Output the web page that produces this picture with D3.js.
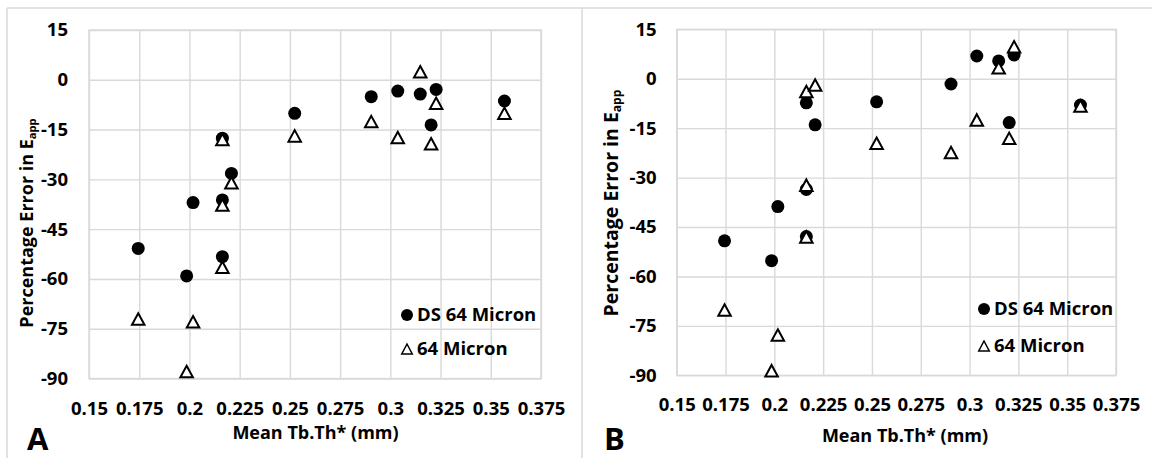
<!DOCTYPE html>
<html>
<head>
<meta charset="utf-8">
<script src="https://cdn.jsdelivr.net/npm/d3@7"></script>
<style>
	body { margin: 0; background: #fff; }
	text { font-family: "Open Sans", sans-serif; font-weight: bold; fill: #000; }
</style>
</head>
<body>
<div id="chart"></div>
<script>

	///////////////////////////////////////////////////////////////////////////
	///////////////////////////////// Data ////////////////////////////////////
	///////////////////////////////////////////////////////////////////////////

	//Mean Tb.Th* (mm), same samples in both panels
	var meanTbTh = [0.1745, 0.1986, 0.2018, 0.2164, 0.2164, 0.2164, 0.2209, 0.2524, 0.2905, 0.3037, 0.3149, 0.3228, 0.3203, 0.3568];

	//Panel A - percentage error in E_app
	var dsA   = [-50.8, -59.1, -37.0, -17.6, -36.2, -53.3, -28.2, -10.1, -5.1, -3.4, -4.3, -2.9, -13.6, -6.4];
	var m64A  = [-72.1, -87.9, -72.9, -18.0, -37.7, -56.5, -31.0, -16.9, -12.6, -17.4, 2.4, -7.1, -19.3, -10.1];

	//Panel B - percentage error in E_app
	var dsB   = [-49.2, -55.2, -38.8, -7.3, -33.6, -47.9, -14.0, -7.0, -1.6, 6.9, 5.4, 7.2, -13.3, -8.0];
	var m64B  = [-70.2, -88.6, -77.8, -3.9, -32.3, -48.0, -1.9, -19.6, -22.4, -12.5, 3.3, 9.7, -18.1, -8.3];

	var xTicks = [0.15, 0.175, 0.2, 0.225, 0.25, 0.275, 0.3, 0.325, 0.35, 0.375];
	var xTickLabels = ["0.15", "0.175", "0.2", "0.225", "0.25", "0.275", "0.3", "0.325", "0.35", "0.375"];
	var yTicks = [15, 0, -15, -30, -45, -60, -75, -90];
	var yTickLabels = ["15", "0", "-15", "-30", "-45", "-60", "-75", "-90"];

	var seriesNames = ["DS 64 Micron", "64 Micron"];

	///////////////////////////////////////////////////////////////////////////
	//////////////////////////// Set up the svg ///////////////////////////////
	///////////////////////////////////////////////////////////////////////////

	var totalWidth = 1152,
		totalHeight = 458,
		gridColor = "#d9d9d9";

	var svg = d3.select("#chart")
		.append("svg")
		.attr("width", totalWidth)
		.attr("height", totalHeight);

	svg.append("rect")
		.attr("width", totalWidth)
		.attr("height", totalHeight)
		.style("fill", "#fff");

	//Outer frame of the two panels
	var frame = [[7, 8, 1152, 8], [7, 8, 7, 458], [582, 8, 582, 458]];
	svg.selectAll(".frame")
		.data(frame)
		.enter().append("line")
		.attr("class", "frame")
		.attr("x1", function(d) { return d[0]; })
		.attr("y1", function(d) { return d[1]; })
		.attr("x2", function(d) { return d[2]; })
		.attr("y2", function(d) { return d[3]; })
		.style("stroke", gridColor)
		.style("stroke-width", 1.5);

	//Triangle marker, centred on its bounding box
	function triangle(w, h) {
		var p = d3.path();
		p.moveTo(0, -h/2);
		p.lineTo(w/2, h/2);
		p.lineTo(-w/2, h/2);
		p.closePath();
		return p.toString();
	}

	var panels = [
		{ letter: "A", left: 89, right: 541, top: 30, bottom: 378.5, ds: dsA, m64: m64A,
		  yTitleX: 33, yTitleY: 223, yTitleSize: 18, yPad: 21,
		  xTitleX: 315.5, xTitleY: 439, letterX: 27, legX: 407, legY: [315, 349] },
		{ letter: "B", left: 676.7, right: 1116, top: 29.3, bottom: 375.3, ds: dsB, m64: m64B,
		  yTitleX: 618, yTitleY: 203, yTitleSize: 19.5, yPad: 20,
		  xTitleX: 905, xTitleY: 442, letterX: 604, legX: 984, legY: [309, 346] }
	];

	panels.forEach(drawPanel);

	///////////////////////////////////////////////////////////////////////////
	///////////////////////////// Draw one panel //////////////////////////////
	///////////////////////////////////////////////////////////////////////////

	function drawPanel(p) {

		var x = d3.scaleLinear().domain([0.15, 0.375]).range([p.left, p.right]);
		var y = d3.scaleLinear().domain([-90, 15]).range([p.bottom, p.top]);

		var g = svg.append("g");

		//Vertical gridlines + x tick labels
		var xAxis = g.append("g")
			.attr("transform", "translate(0," + p.bottom + ")")
			.call(d3.axisBottom(x)
				.tickValues(xTicks)
				.tickFormat(function(d, i) { return xTickLabels[i]; })
				.tickSize(-(p.bottom - p.top))
				.tickPadding(23));

		//Horizontal gridlines + y tick labels (plain hyphen like the original)
		var yAxis = g.append("g")
			.attr("transform", "translate(" + p.left + ",0)")
			.call(d3.axisLeft(y)
				.tickValues(yTicks)
				.tickFormat(function(d, i) { return yTickLabels[i]; })
				.tickSize(-(p.right - p.left))
				.tickPadding(p.yPad));

		[xAxis, yAxis].forEach(function(a) {
			a.attr("font-family", null).attr("font-size", null);
			a.select(".domain").remove();
			a.selectAll("line").style("stroke", gridColor).style("stroke-width", 1.4);
			a.selectAll("text").style("font-size", "18.5px").style("fill", "#000");
		});

		//Plot area border
		g.append("rect")
			.attr("x", p.left)
			.attr("y", p.top)
			.attr("width", p.right - p.left)
			.attr("height", p.bottom - p.top)
			.style("fill", "none")
			.style("stroke", gridColor)
			.style("stroke-width", 1.4);

		//DS 64 Micron - filled circles
		g.selectAll(".ds")
			.data(p.ds)
			.enter().append("circle")
			.attr("class", "ds")
			.attr("cx", function(d, i) { return x(meanTbTh[i]); })
			.attr("cy", function(d) { return y(d); })
			.attr("r", 6.5)
			.style("fill", "#000");

		//64 Micron - open triangles, drawn on top
		g.selectAll(".m64")
			.data(p.m64)
			.enter().append("path")
			.attr("class", "m64")
			.attr("d", triangle(12.5, 11.5))
			.attr("transform", function(d, i) { return "translate(" + x(meanTbTh[i]) + "," + y(d) + ")"; })
			.style("fill", "#fff")
			.style("stroke", "#000")
			.style("stroke-width", 2)
			.style("stroke-linejoin", "miter");

		//Axis titles
		var yTitle = g.append("text")
			.attr("transform", "translate(" + p.yTitleX + "," + p.yTitleY + ") rotate(-90)")
			.style("text-anchor", "middle")
			.style("font-size", p.yTitleSize + "px");
		yTitle.append("tspan").text("Percentage Error in E");
		yTitle.append("tspan").attr("dy", "0.25em").style("font-size", (p.yTitleSize * 0.62) + "px").text("app");

		g.append("text")
			.attr("x", p.xTitleX)
			.attr("y", p.xTitleY)
			.style("text-anchor", "middle")
			.style("font-size", "18px")
			.text("Mean Tb.Th* (mm)");

		//Panel letter
		g.append("text")
			.attr("x", p.letterX)
			.attr("y", 450)
			.style("font-size", "31px")
			.text(p.letter);

		//Legend
		var leg = g.selectAll(".legend")
			.data(seriesNames)
			.enter().append("g")
			.attr("class", "legend")
			.attr("transform", function(d, i) { return "translate(" + p.legX + "," + p.legY[i] + ")"; });

		leg.filter(function(d, i) { return i === 0; })
			.append("circle")
			.attr("r", 6)
			.style("fill", "#000");

		leg.filter(function(d, i) { return i === 1; })
			.append("path")
			.attr("d", triangle(10.5, 10))
			.style("fill", "#fff")
			.style("stroke", "#000")
			.style("stroke-width", 1.5);

		leg.append("text")
			.attr("x", 10)
			.attr("dy", "0.35em")
			.style("font-size", "18.5px")
			.text(function(d) { return d; });

	}//drawPanel

</script>
</body>
</html>
